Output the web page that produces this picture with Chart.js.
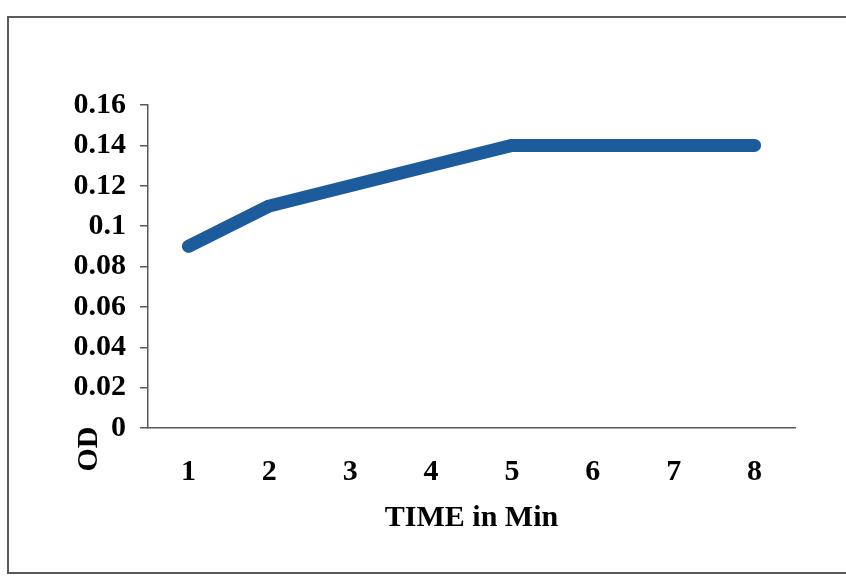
<!DOCTYPE html>
<html>
<head>
<meta charset="utf-8">
<script src="https://cdn.jsdelivr.net/npm/chart.js@4"></script>
<style>
  html, body { margin: 0; padding: 0; background: #fff; }
  .frame {
    position: absolute; left: 7px; top: 16px; width: 860px; height: 558px;
    border: 2px solid #5a5a5a; box-sizing: border-box;
  }
  .wrap { position: absolute; left: 0; top: 0; width: 846px; height: 583px; }
</style>
</head>
<body>
<div class="frame"></div>
<div class="wrap"><canvas id="chart"></canvas></div>
<script>
const times = ["1", "2", "3", "4", "5", "6", "7", "8"];
const od = [0.09, 0.11, 0.12, 0.13, 0.14, 0.14, 0.14, 0.14];
const yTicks = [0, 0.02, 0.04, 0.06, 0.08, 0.1, 0.12, 0.14, 0.16];

const serif = "'Liberation Serif', 'Times New Roman', serif";
const axisGrey = "#595959";

// "OD" sits low, next to the 0 label, like the original Excel layout
const odTitle = {
  id: "odTitle",
  afterDraw(chart) {
    const { ctx, chartArea } = chart;
    ctx.save();
    ctx.translate(chartArea.left - 59, chartArea.bottom + 21);
    ctx.rotate(-Math.PI / 2);
    ctx.font = `bold 30px ${serif}`;
    ctx.fillStyle = "#000";
    ctx.textAlign = "center";
    ctx.textBaseline = "middle";
    ctx.fillText("OD", 0, 0);
    ctx.restore();
  },
};

new Chart(document.getElementById("chart"), {
  type: "line",
  plugins: [odTitle],
  data: {
    labels: times,
    datasets: [
      {
        label: "OD",
        data: od,
        borderColor: "#1d5c9c",
        backgroundColor: "#1d5c9c",
        borderWidth: 13,
        borderCapStyle: "round",
        borderJoinStyle: "round",
        pointRadius: 0,
        tension: 0,
        clip: false,
      },
    ],
  },
  options: {
    animation: false,
    responsive: true,
    maintainAspectRatio: false,
    layout: {
      padding: { left: 0, top: 105, right: 51, bottom: 0 },
    },
    plugins: {
      legend: { display: false },
      tooltip: { enabled: false },
    },
    scales: {
      x: {
        offset: true,
        grid: { display: false },
        border: { display: true, color: axisGrey, width: 1.5 },
        ticks: {
          color: "#000",
          padding: 18,
          maxRotation: 0,
          font: { family: serif, size: 30, weight: "bold" },
        },
        title: {
          display: true,
          text: "TIME in Min",
          color: "#000",
          padding: { top: 0, bottom: 47 },
          font: { family: serif, size: 30, weight: "bold" },
        },
        afterFit: (scale) => {
          scale.height = 155;
        },
      },
      y: {
        min: 0,
        max: 0.16,
        afterBuildTicks: (scale) => {
          scale.ticks = yTicks.map((v) => ({ value: v }));
        },
        grid: {
          drawOnChartArea: false,
          drawTicks: true,
          tickLength: 8,
          color: axisGrey,
          lineWidth: 1.5,
        },
        border: { display: true, color: axisGrey, width: 1.5 },
        ticks: {
          color: "#000",
          padding: 14,
          font: { family: serif, size: 30, weight: "bold" },
          callback: (v) => String(Math.round(v * 100) / 100),
        },
        afterFit: (scale) => {
          scale.width = 148;
        },
      },
    },
  },
});
</script>
</body>
</html>
